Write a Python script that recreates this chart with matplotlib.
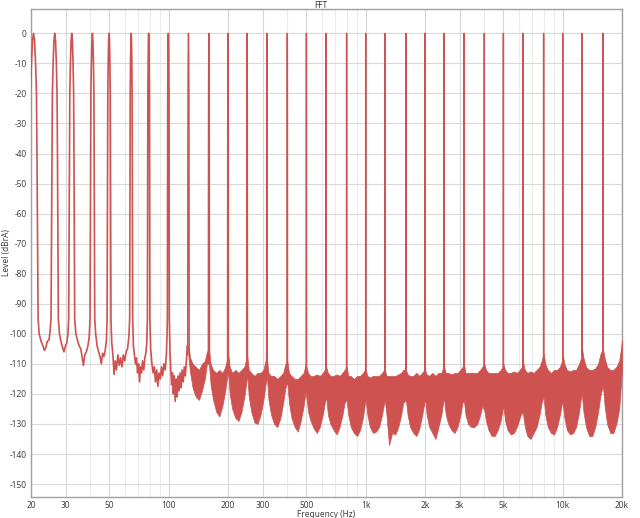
import numpy as np
import matplotlib
matplotlib.use("Agg")
import matplotlib.pyplot as plt
from matplotlib.ticker import FixedLocator, NullFormatter

plt.rcParams['font.family'] = ['Noto Sans', 'DejaVu Sans']

# multitone: 1/3 octave tones, all peaks at about 0 dB
tone_hz = [20.6, 26.4, 32.2, 41.0, 49.8, 64.5, 79.1, 99.6, 126, 160,
           200, 250, 315, 400, 500, 630, 800, 1000, 1250, 1600,
           2000, 2500, 3150, 4000, 5000, 6300, 8000, 10000, 12500, 16000]
tone_db = [0, 0, 0, 0, 0, 0, 0, 0, 0, 0,
           0, 0, 0, 0, 0, 0, 0, 0, 0, 0,
           0, 0, 0, 0, 0, 0, 0, 0, 0, 0]

peak_off_hz = [-1.13, -1.0, -0.85, -0.72, -0.5, -0.25, 0, 0.25, 0.5, 0.72, 0.85, 1.0, 1.13]
peak_rel_db = [-95, -70, -40, -20, -10, -2.5, 0, -2.5, -10, -20, -40, -70, -95]

# low end: thin noise trace between the tones up to 126 Hz
floor_hz = [22.0, 22.5, 23.0, 23.4, 23.8, 24.2, 24.7, 25.0,
            27.9, 28.4, 28.9, 29.4, 29.9, 30.4, 30.8,
            33.8, 34.4, 35.1, 35.8, 36.4, 36.9, 37.5, 38.2, 38.9, 39.5,
            42.6, 43.3, 44.1, 44.8, 45.5, 46.2, 46.9, 47.6, 48.3,
            51.4, 52.1, 52.8, 53.5, 54.3, 55.2, 56.1, 57.0, 57.9, 58.8, 59.8, 60.8, 61.8, 62.8,
            66.2, 67.0, 67.8, 68.6, 69.5, 70.3, 71.1, 71.9, 72.8, 73.7, 74.7, 75.7, 76.7, 77.4,
            81.0, 82.2, 83.4, 84.5, 85.7, 86.9, 88.1, 89.3, 90.6, 91.9, 93.2, 94.6, 96.0, 97.3, 98.0,
            101.5, 102.5, 103.5, 104.5, 105.6, 106.7, 107.9, 109.1, 110.3, 111.6, 112.9, 114.2,
            115.6, 117.0, 118.5, 120.0, 121.5, 123.0, 124.2]
floor_db = [-100, -102.5, -104, -105.5, -104.5, -102.5, -102, -99,
            -100, -102.5, -104.5, -106, -104, -103, -100,
            -100, -102, -104, -105, -108, -110.5, -107, -106, -104, -101,
            -100, -104, -106, -107.5, -110, -106.5, -107.5, -105.5, -102,
            -103, -107, -113.5, -109, -112, -107, -110.5, -108, -111, -107, -109, -106, -105, -101,
            -104, -107, -110, -108, -113, -110, -116, -111, -113, -109, -112, -108, -106, -103,
            -105, -110, -113, -111, -116, -112, -117.5, -113, -115, -111, -114, -110, -112, -107, -101,
            -106, -112, -117, -113, -120, -114, -122.5, -115, -121, -114, -119, -113,
            -118, -112, -116, -111, -114, -109, -104]

# from 126 Hz up the floor is a dense band: upper and lower edge
band_hz = [126, 128.5, 132.3, 137.3, 142.4, 147.4, 152.5, 156.2,
           160, 163.2, 168, 174.4, 180.8, 187.2, 193.6, 198.4,
           200, 204, 210, 218, 226, 234, 242, 248,
           250, 255, 262.5, 272.5, 282.5, 292.5, 302.5, 310,
           315, 321, 331, 343, 356, 369, 381, 391,
           400, 408, 420, 436, 452, 468, 484, 496,
           500, 510, 525, 545, 565, 585, 605, 620,
           630, 643, 662, 687, 712, 737, 762, 781,
           800, 816, 840, 872, 904, 936, 968, 992,
           1000, 1020, 1050, 1090, 1130, 1170, 1210, 1240,
           1250, 1275, 1313, 1363, 1413, 1463, 1513, 1550,
           1600, 1632, 1680, 1744, 1808, 1872, 1936, 1984,
           2000, 2040, 2100, 2180, 2260, 2340, 2420, 2480,
           2500, 2550, 2625, 2725, 2825, 2925, 3025, 3100,
           3150, 3213, 3308, 3434, 3560, 3686, 3812, 3906,
           4000, 4080, 4200, 4360, 4520, 4680, 4840, 4960,
           5000, 5100, 5250, 5450, 5650, 5850, 6050, 6200,
           6300, 6426, 6615, 6867, 7119, 7371, 7623, 7812,
           8000, 8160, 8400, 8720, 9040, 9360, 9680, 9920,
           10000, 10200, 10500, 10900, 11300, 11700, 12100, 12400,
           12500, 12750, 13125, 13625, 14125, 14625, 15125, 15500,
           16000, 16320, 16800, 17440, 18080, 18720, 19360, 19840,
           20000]
band_top = [-104, -108, -110, -111, -112, -110, -109, -106,
            -105, -110, -112, -113, -112, -113, -111, -108,
            -106, -111, -113, -112, -113, -112, -111, -108,
            -107, -112, -113, -114, -113, -113, -112, -109,
            -108, -113, -114, -114, -115, -114, -113, -110,
            -109, -113, -114, -115, -115, -114, -113, -110,
            -111, -113, -114, -114, -113.5, -114, -113, -112,
            -111, -113, -114, -114, -113.5, -114, -113, -112,
            -111, -114, -114, -115, -114, -114, -113, -112,
            -112, -114, -114.5, -114, -114, -114, -113, -112,
            -112, -114, -114, -114, -114, -113.5, -113, -112,
            -112, -113.5, -114, -114, -113, -114, -113, -112,
            -112, -113.5, -114, -113, -114, -113, -113, -111,
            -111, -113, -113, -113.5, -113, -113, -112, -111,
            -110, -113, -113, -113, -113, -113, -112, -111,
            -110, -112, -113, -113, -113, -113, -112, -111,
            -110, -112, -113, -113, -112.5, -113, -112, -111,
            -109.5, -112, -113, -112.5, -113, -112, -111, -109,
            -106.5, -110, -112, -113, -112, -112, -111, -109,
            -107, -110, -112, -112.5, -112, -112, -110, -108,
            -104.3, -108, -111, -112, -112, -111.5, -110, -107,
            -104.8, -108, -111, -112, -112, -111, -109, -104,
            -102]
band_bot = [-108, -113, -118, -121, -122, -119, -115, -110,
            -110, -117, -122, -126, -127.5, -124, -119, -114,
            -112, -120, -125, -128, -129, -126, -121, -116,
            -113, -121, -126, -129.5, -130, -127, -122, -117,
            -114, -122, -127, -130, -131, -128, -123, -118,
            -116, -123, -128, -131, -132.5, -129, -124, -119,
            -121, -126, -129, -131.5, -133, -131, -127, -123,
            -121, -127, -130, -132, -133.5, -131, -127, -123,
            -122, -127, -131, -133, -134, -132, -128, -123,
            -122, -127, -131, -133, -132.5, -131, -127, -123,
            -122, -127, -137, -133, -133.5, -131, -127, -123,
            -122, -127, -131, -133, -134, -131.5, -127, -123,
            -121, -127, -131, -133, -135, -131, -127, -122,
            -122, -127, -130, -132, -133, -131, -127, -123,
            -122, -127, -130, -131, -131, -130, -127, -124,
            -125.5, -129, -132, -134, -134, -132, -129, -125,
            -124, -129, -132, -133.5, -133, -131, -128, -126,
            -127, -131, -134, -135, -133, -131, -127, -123,
            -121, -127, -131, -133, -133.5, -131, -127, -123,
            -123, -128, -132, -133.5, -133, -131, -126, -121,
            -120, -126, -131, -134, -134, -131, -126, -121,
            -117, -124, -130, -133, -133, -130, -125, -115,
            -112]

x_major = [20, 30, 50, 100, 200, 300, 500, 1000, 2000, 3000, 5000, 10000, 20000]
x_labels = ['20', '30', '50', '100', '200', '300', '500', '1k', '2k', '3k', '5k', '10k', '20k']
x_minor = [40, 60, 70, 80, 90, 400, 600, 700, 800, 900,
           4000, 6000, 7000, 8000, 9000]
y_ticks = list(range(0, -151, -10))

red = '#cd5250'
fig = plt.figure(figsize=(6.4, 5.18), dpi=100)
ax = fig.add_axes([31 / 640, 1 - 497 / 518, 591 / 640, 488 / 518])

# low end trace: floor points plus the peak shapes of the first tones
n_low = 8
low_hz = list(floor_hz)
low_db = list(floor_db)
for f, lv in zip(tone_hz[:n_low], tone_db[:n_low]):
    low_hz += [f + o for o in peak_off_hz]
    low_db += [lv + r for r in peak_rel_db]
order = np.argsort(low_hz)
ax.plot(np.array(low_hz)[order], np.array(low_db)[order], color=red, lw=1.2, zorder=3)

# dense band
ax.fill_between(band_hz, band_bot, band_top, color=red, lw=0.5, edgecolor=red, zorder=3)

# the remaining tones rise out of the band
for f, lv in zip(tone_hz[n_low:], tone_db[n_low:]):
    base = np.interp(f, band_hz, band_top) - 3
    xs = [f + peak_off_hz[0]] + [f + o for o in peak_off_hz] + [f + peak_off_hz[-1]]
    ys = [base] + [lv + r for r in peak_rel_db] + [base]
    ax.plot(xs, ys, color=red, lw=1.0, zorder=4)

ax.set_xscale('log')
ax.set_xlim(20, 20000)
ax.set_ylim(-154.3, 8.1)
ax.xaxis.set_major_locator(FixedLocator(x_major))
ax.xaxis.set_minor_locator(FixedLocator(x_minor))
ax.xaxis.set_minor_formatter(NullFormatter())
ax.set_xticklabels(x_labels)
ax.set_yticks(y_ticks)
ax.set_yticklabels([str(v) for v in y_ticks])

ax.grid(True, which='major', axis='x', color='#d6d6d6', lw=0.8)
ax.grid(True, which='minor', axis='x', color='#ececec', lw=0.8)
ax.grid(True, which='major', axis='y', color='#dadada', lw=0.8)
ax.set_axisbelow(True)
ax.tick_params(which='both', length=0, labelsize=6, colors='#404040', pad=3)

for s in ax.spines.values():
    s.set_color('#a0a0a0')
    s.set_linewidth(1)

fig.text(321 / 640, 1 - 5 / 518, 'FFT', fontsize=6, color='#404040', ha='center', va='center')
ax.set_xlabel('Frequency (Hz)', fontsize=6, color='#404040', labelpad=0)
ax.set_ylabel('Level (dBrA)', fontsize=6, color='#404040')
ax.yaxis.set_label_coords(-20 / 591, 0.5)

fig.savefig('out.png', dpi=100)
